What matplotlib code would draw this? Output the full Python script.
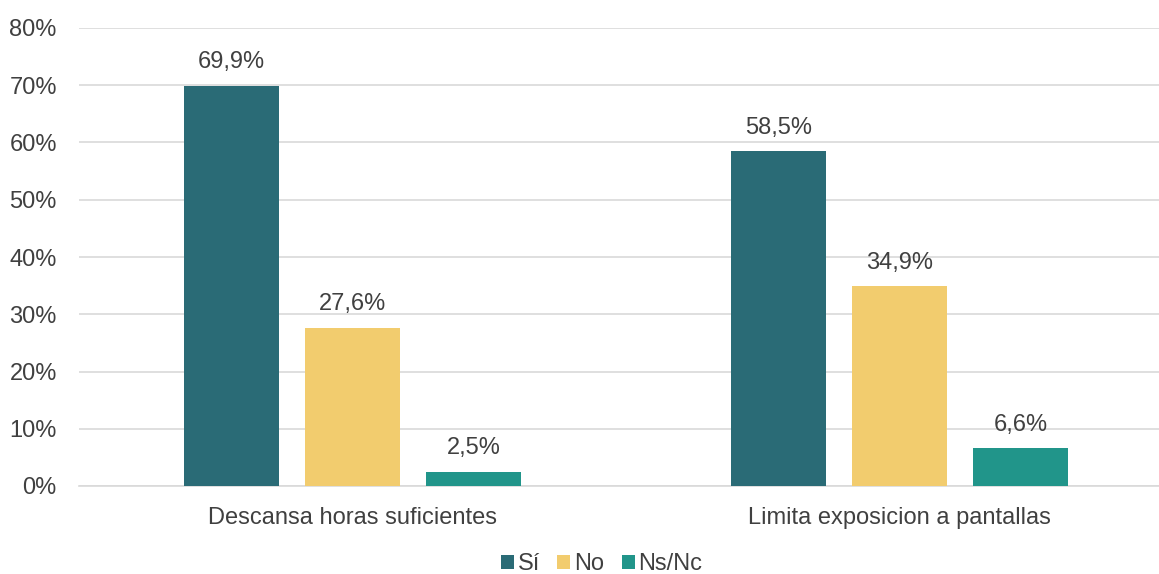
import numpy as np
import matplotlib.pyplot as plt

plt.rcParams['font.family'] = ['Liberation Sans', 'DejaVu Sans']

categorias = ["Descansa horas suficientes", "Limita exposicion a pantallas"]
series = ["Sí", "No", "Ns/Nc"]
si = [69.9, 58.5]
no = [27.6, 34.9]
nsnc = [2.5, 6.6]
colores = ["#2A6B76", "#F2CC6E", "#21958A"]

texto = "#404040"

fig = plt.figure(figsize=(11.59, 5.74), dpi=100)
ax = fig.add_axes([79 / 1159, 88 / 574, 1080 / 1159, 458 / 574])

x = np.arange(len(categorias))
ancho = 95 / 547
paso = 121 / 547

for i, (nombre, vals, col) in enumerate(zip(series, [si, no, nsnc], colores)):
    barras = ax.bar(x + (i - 1) * paso, vals, width=ancho, color=col, label=nombre, zorder=3)
    etiquetas = [f"{v:.1f}%".replace(".", ",") for v in vals]
    ax.bar_label(barras, labels=etiquetas, padding=9, fontsize=17, color=texto)

ax.set_xlim(-0.5, -0.5 + 1080 / 547)
ax.set_ylim(0, 80)
ax.set_yticks(np.arange(0, 81, 10))
ax.set_yticklabels([f"{v}%" for v in range(0, 81, 10)], fontsize=17, color=texto)
ax.set_xticks(x)
ax.set_xticklabels(categorias, fontsize=17, color=texto)
ax.tick_params(axis="both", length=0)
ax.tick_params(axis="y", pad=16)
ax.tick_params(axis="x", pad=15)
ax.grid(axis="y", color="#D9D9D9", linewidth=1.2, zorder=0)
for lado in ["top", "right", "left"]:
    ax.spines[lado].set_visible(False)
ax.spines["bottom"].set_color("#D9D9D9")
ax.spines["bottom"].set_linewidth(1.2)

fig.legend(loc="center", bbox_to_anchor=(0.519, 0.017), ncol=3, frameon=False,
           fontsize=17, handlelength=0.55, handleheight=0.55, handletextpad=0.15,
           columnspacing=0.75, labelcolor=texto, borderpad=0)

fig.savefig("out.png", dpi=100)
